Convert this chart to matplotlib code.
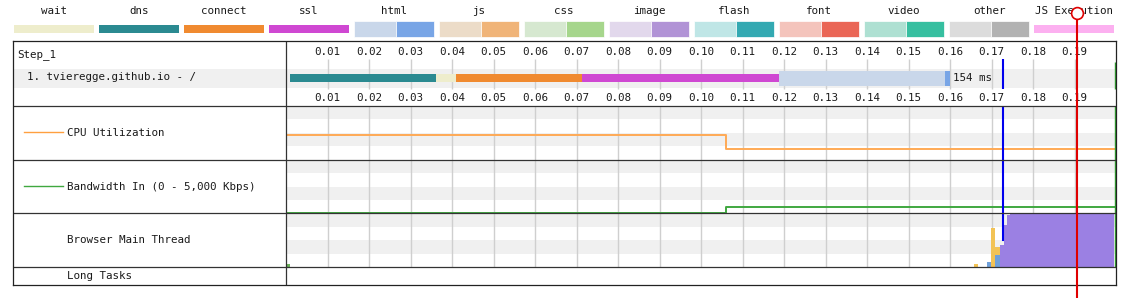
import matplotlib
matplotlib.use("Agg")
import matplotlib.pyplot as plt

plt.rcParams['font.family'] = ['DejaVu Sans Mono']
plt.rcParams['font.size'] = 7.8

# ---------------- data ----------------
legend_names = ['wait', 'dns', 'connect', 'ssl', 'html', 'js', 'css', 'image',
                'flash', 'font', 'video', 'other', 'JS Execution']
legend_split = [False, False, False, False, True, True, True, True,
                True, True, True, True, False]
legend_light = ['#eeedcc', '#2b8a91', '#f08a30', '#cf48d2', '#c9d7ea', '#ecdcc8',
                '#d6e8d0', '#e2d8ec', '#bfe6e6', '#f4c4bc', '#aee0d2', '#dcdcdc', '#fcb0f0']
legend_dark = ['#eeedcc', '#2b8a91', '#f08a30', '#cf48d2', '#78a5e6', '#f0b478',
               '#a6d68c', '#b193d6', '#33a9b2', '#ea6656', '#36bfa0', '#b2b2b2', '#fcb0f0']

tick_ms = [10, 20, 30, 40, 50, 60, 70, 80, 90, 100, 110, 120, 130, 140, 150, 160, 170, 180, 190]
tick_labels = ['0.01', '0.02', '0.03', '0.04', '0.05', '0.06', '0.07', '0.08', '0.09', '0.10',
               '0.11', '0.12', '0.13', '0.14', '0.15', '0.16', '0.17', '0.18', '0.19']

step_label = 'Step_1'
request_label = '1. tvieregge.github.io - /'
request_duration = '154 ms'
phase_names = ['dns', 'wait', 'connect', 'ssl', 'html_ttfb', 'html_download']
phase_start_ms = [1.0, 36.2, 41.0, 71.4, 118.9, 158.9]
phase_end_ms = [36.2, 41.0, 71.4, 118.9, 158.9, 160.1]
phase_colors = ['#2b8a91', '#eeedcc', '#f08a30', '#cf48d2', '#c9d7ea', '#78a5e6']
phase_tall = [False, False, False, False, True, True]

blue_marker_ms = 172.8
red_marker_ms = 190.7
green_marker_ms = 199.8

cpu_time_ms = [0, 0, 106.1, 200]
cpu_pct = [0, 47, 21, 21]

bw_time_ms = [0, 106.1, 200]
bw_kbps = [40, 600, 600]

mt_edges_ms = [0.0, 1.0, 165.7, 166.7, 168.9, 169.9, 170.8, 172.0, 172.9, 173.8, 174.5, 199.5]
mt_paint = [5, 0, 0, 0, 0, 0, 0, 0, 0, 0, 0]
mt_other = [0, 0, 0, 0, 10, 0, 22, 0, 0, 0, 0]
mt_script = [0, 0, 6, 0, 0, 72, 15, 0, 0, 0, 0]
mt_layout = [0, 0, 0, 0, 0, 0, 0, 40, 78, 96, 100]

row_labels = ['CPU Utilization', 'Bandwidth In (0 - 5,000 Kbps)', 'Browser Main Thread', 'Long Tasks']

# ---------------- layout helpers ----------------
W, H = 1127, 308
def rect(x0, y0, x1, y1):
    return [x0 / W, 1 - y1 / H, (x1 - x0) / W, (y1 - y0) / H]

TXT = '#1a1a1a'
GRID = '#cfcfcf'
BAND = '#f0f0f0'
XMAX = 200.0

fig = plt.figure(figsize=(W / 100, H / 100), dpi=100)

# ---------------- legend ----------------
ax_leg = fig.add_axes(rect(14, 0, 14 + 85 * 13, 40))
ax_leg.set_xlim(0, 13)
ax_leg.set_ylim(40, 0)
ax_leg.axis('off')
for i, name in enumerate(legend_names):
    ax_leg.text(i + 40 / 85, 10.5, name, ha='center', va='center', color=TXT)
    if legend_split[i]:
        ax_leg.bar(i, 16, bottom=21, width=42 / 85, align='edge',
                   color=legend_light[i], edgecolor='white', linewidth=0.5)
        ax_leg.bar(i + 42 / 85, 16, bottom=21, width=38 / 85, align='edge',
                   color=legend_dark[i], edgecolor='white', linewidth=0.5)
    else:
        ax_leg.bar(i, 7.5, bottom=25.2, width=80 / 85, align='edge',
                   color=legend_light[i], linewidth=0)

# ---------------- label column ----------------
ax_lab = fig.add_axes(rect(13, 41, 286, 285))
ax_lab.set_xlim(0, 273)
ax_lab.set_ylim(244, 0)
ax_lab.axis('off')
ax_lab.axhspan(28, 47, color=BAND, lw=0)
ax_lab.text(4, 14, step_label, va='center', color=TXT)
ax_lab.text(14, 35.5, request_label, va='center', color=TXT)
leg_line_colors = ['#ffa040', '#40a840']
row_centers = [92, 145.5, 199, 235]
for j, lab in enumerate(row_labels):
    ax_lab.text(54, row_centers[j], lab, va='center', color=TXT)
for j, c in enumerate(leg_line_colors):
    ax_lab.plot([11, 50], [row_centers[j] - 0.8] * 2, color=c, lw=1.0)

# ---------------- waterfall ----------------
ax_wf = fig.add_axes(rect(286, 41, 1116, 106))
ax_wf.set_xlim(0, XMAX)
ax_wf.set_ylim(65, 0)
ax_wf.axis('off')
ax_wf.axhspan(28, 47, color=BAND, lw=0, zorder=0)
ax_wf.vlines(tick_ms, 18, 48, color=GRID, lw=1.0, zorder=1)
for t, lab in zip(tick_ms, tick_labels):
    ax_wf.text(t, 10.7, lab, ha='center', va='center', color=TXT)
    ax_wf.text(t, 56.7, lab, ha='center', va='center', color=TXT)
for s, e, c, tall in zip(phase_start_ms, phase_end_ms, phase_colors, phase_tall):
    h = 15 if tall else 7.4
    ax_wf.barh(37, e - s, left=s, height=h, color=c, lw=0, zorder=2)
ax_wf.text(phase_end_ms[-1] + 0.7, 37.3, request_duration, va='center', ha='left', color=TXT, zorder=3)
ax_wf.vlines(blue_marker_ms, 18, 48, color='#0000ee', lw=1.5, zorder=4)
ax_wf.vlines(green_marker_ms, 21, 48, color='#30a030', lw=1.0, zorder=4)

# ---------------- CPU / Bandwidth / Main thread / Long tasks ----------------
def chart_axes(y0, y1, ymax, stripes=True, grid=True):
    ax = fig.add_axes(rect(286, y0, 1116, y1))
    ax.set_xlim(0, XMAX)
    ax.set_ylim(0, ymax)
    ax.axis('off')
    if stripes:
        ax.axhspan(ymax * 0.75, ymax, color=BAND, lw=0, zorder=0)
        ax.axhspan(ymax * 0.25, ymax * 0.5, color=BAND, lw=0, zorder=0)
    if grid:
        ax.vlines(tick_ms, 0, ymax, color=GRID, lw=1.0, zorder=1)
    return ax

ax_cpu = chart_axes(106, 160, 100)
ax_cpu.plot(cpu_time_ms, cpu_pct, drawstyle='steps-post', color='#ffaa55', lw=1.4, zorder=3)
ax_cpu.axvline(blue_marker_ms, color='#0000ee', lw=1.5, zorder=4)
ax_cpu.axvline(green_marker_ms, color='#30a030', lw=1.0, zorder=4)

ax_bw = chart_axes(160, 213, 5000)
ax_bw.plot(bw_time_ms, bw_kbps, drawstyle='steps-post', color='#40a840', lw=1.4, zorder=3)
ax_bw.axvline(blue_marker_ms, color='#0000ee', lw=1.5, zorder=4)
ax_bw.axvline(green_marker_ms, color='#30a030', lw=1.0, zorder=4)

ax_mt = chart_axes(213, 267, 100)
lefts = mt_edges_ms[:-1]
widths = [b - a for a, b in zip(mt_edges_ms[:-1], mt_edges_ms[1:])]
bottom = [0] * len(lefts)
for vals, col in [(mt_other, '#6fa0da'), (mt_script, '#f2c355'),
                  (mt_layout, '#9b80e3'), (mt_paint, '#6cb35a')]:
    ax_mt.bar(lefts, vals, width=widths, bottom=bottom, align='edge', color=col, lw=0, zorder=2)
    bottom = [b + v for b, v in zip(bottom, vals)]
ax_mt.axvline(blue_marker_ms, ymin=0.5, ymax=1.0, color='#0000ee', lw=1.5, zorder=4)
ax_mt.axvline(green_marker_ms, color='#30a030', lw=1.0, zorder=4)

ax_lt = chart_axes(267, 285, 100, stripes=False, grid=False)

# ---------------- frame ----------------
ax_fr = fig.add_axes(rect(13, 41, 1116, 285))
ax_fr.set_xlim(0, 1103)
ax_fr.set_ylim(244, 0)
ax_fr.set_facecolor('none')
ax_fr.set_xticks([])
ax_fr.set_yticks([])
for sp in ax_fr.spines.values():
    sp.set_color('#222222')
    sp.set_linewidth(0.9)
ax_fr.hlines([65, 119, 172, 226], 0, 1103, color='#333333', lw=0.9)
ax_fr.vlines(273, 0, 244, color='#333333', lw=0.9)
ax_fr.set_zorder(5)

# ---------------- red marker overlay ----------------
ax_ov = fig.add_axes(rect(286, 0, 1116, 308))
ax_ov.set_xlim(0, XMAX)
ax_ov.set_ylim(308, 0)
ax_ov.axis('off')
ax_ov.set_zorder(10)
ax_ov.vlines(red_marker_ms, 18, 298, color='#e00000', lw=1.5)
ax_ov.plot([red_marker_ms], [13], marker='o', ms=8.5, mfc='white', mec='#e00000', mew=1.2)

fig.savefig('out.png', dpi=100)
